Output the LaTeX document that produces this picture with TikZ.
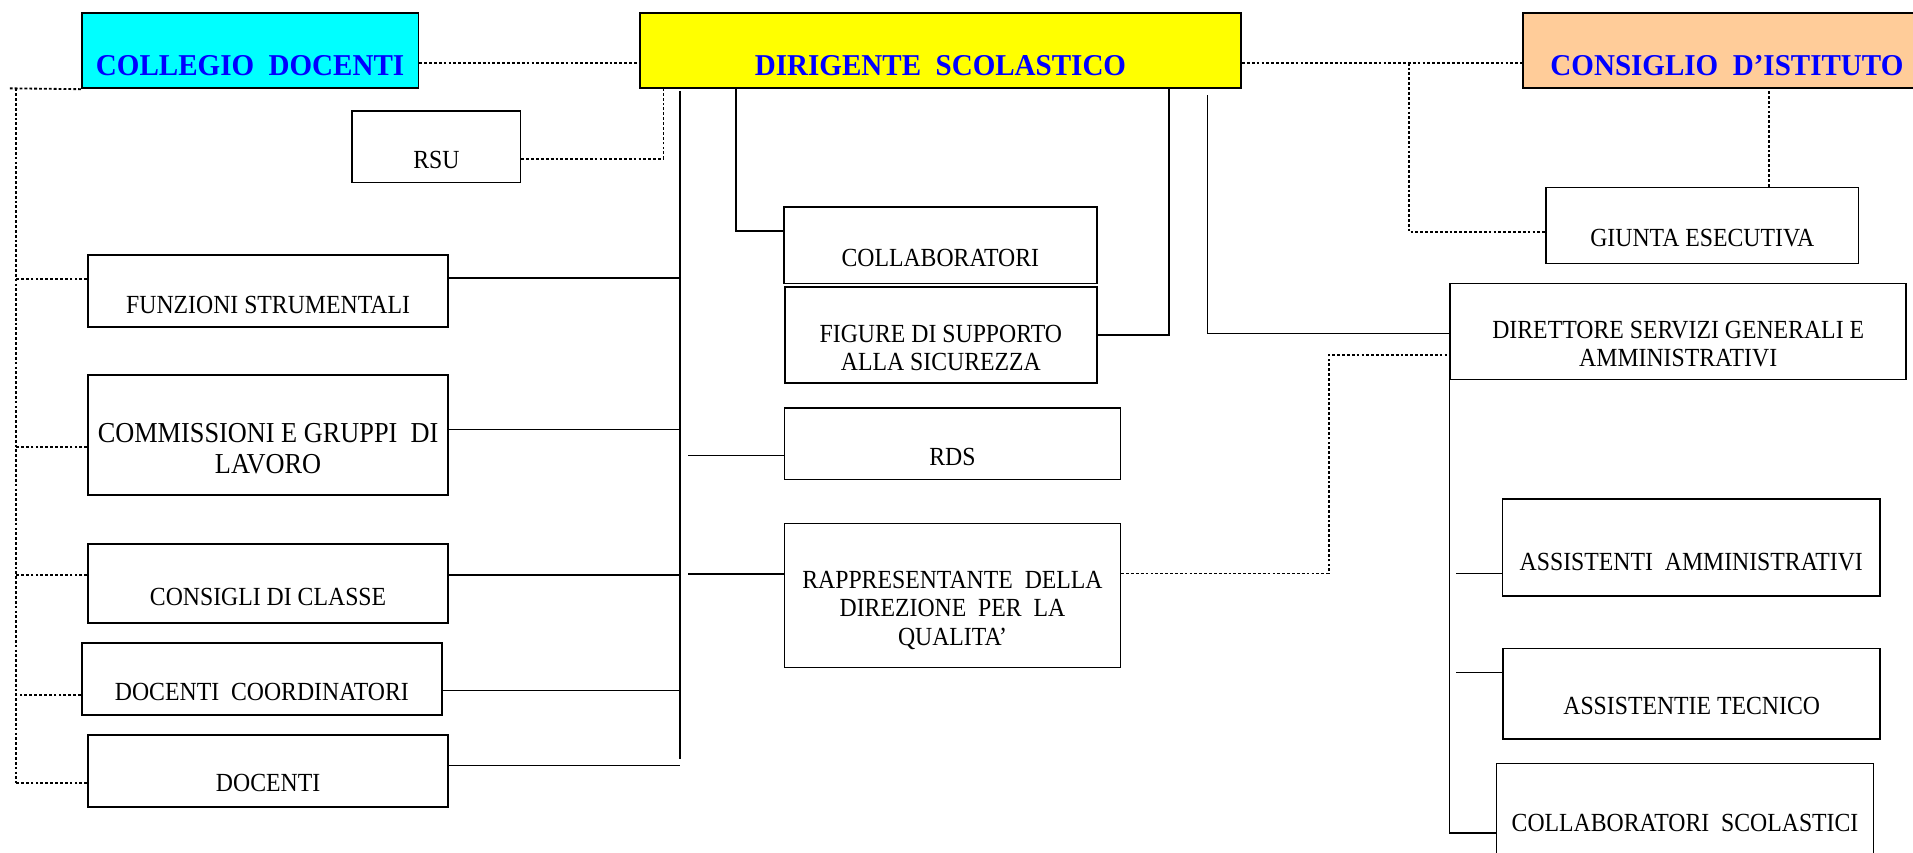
\documentclass[tikz,border=0pt]{standalone}
\usepackage{fontspec}
\setmainfont{Liberation Serif}[FakeStretch=0.91]
\newfontfamily\headfont{Liberation Serif}[FakeStretch=0.96]
\definecolor{cyanbox}{RGB}{0,255,255}
\definecolor{yellowbox}{RGB}{255,255,0}
\definecolor{peachbox}{RGB}{255,204,153}
\newcommand{\lowtext}[2]{\raisebox{-#1}[0pt][0pt]{\begin{tabular}[b]{@{}c@{}}#2\end{tabular}}}

\begin{document}
\begin{tikzpicture}[x=1pt, y=-1pt,
box/.style={draw, line width=1.4pt, inner sep=0pt, font=\fontsize{21.4pt}{23.3pt}\selectfont},
head/.style={box, font=\headfont\fontsize{24.8pt}{28pt}\selectfont\bfseries, text=blue},
link/.style={line width=1.3pt},
dotlink/.style={line width=1.5pt, dash pattern=on 2.3pt off 1.7pt}]
\useasboundingbox (0,0) rectangle (1568,699);

% top row
\node [head, fill=cyanbox, minimum width=275.9pt, minimum height=62pt] (collegio) at (205,41.4) {\lowtext{20.1pt}{COLLEGIO~~DOCENTI}};
\node [head, fill=yellowbox, minimum width=492.8pt, minimum height=62pt] (dirigente) at (770.9,41.4) {\lowtext{20.1pt}{DIRIGENTE~~SCOLASTICO}};
\node [head, fill=peachbox, minimum width=334.6pt, minimum height=62pt] (consiglio) at (1415.5,41.4) {\lowtext{20.1pt}{CONSIGLIO~~D’ISTITUTO}};

% left column
\node [box, minimum width=138pt, minimum height=59pt] (rsu) at (357.7,120.2) {\lowtext{17.8pt}{RSU}};
\node [box, minimum width=295.3pt, minimum height=58.8pt] (funzioni) at (219.75,238.4) {\lowtext{18.6pt}{FUNZIONI STRUMENTALI}};
\node [box, minimum width=295.3pt, minimum height=98.1pt, font=\fontsize{23.7pt}{25.1pt}\selectfont] (commissioni) at (219.75,356.45) {\lowtext{31.5pt}{COMMISSIONI E GRUPPI~~DI\\LAVORO}};
\node [box, minimum width=295.3pt, minimum height=64.5pt] (consigli) at (219.75,478.15) {\lowtext{17.85pt}{CONSIGLI DI CLASSE}};
\node [box, minimum width=295.3pt, minimum height=59.2pt] (coordinatori) at (214.65,556.4) {\lowtext{17.9pt}{DOCENTI~~COORDINATORI}};
\node [box, minimum width=295.3pt, minimum height=58.7pt] (docenti) at (219.75,631.85) {\lowtext{17.15pt}{DOCENTI}};

% middle column
\node [box, minimum width=256.6pt, minimum height=62.9pt] (collaboratori) at (770.7,200.85) {\lowtext{17.75pt}{COLLABORATORI}};
\node [box, minimum width=255.6pt, minimum height=78.7pt] (sicurezza) at (771.2,274.85) {\lowtext{29.05pt}{FIGURE DI SUPPORTO\\ALLA SICUREZZA}};
\node [box, minimum width=275.2pt, minimum height=58.7pt] (rds) at (780.7,363.55) {\lowtext{17.65pt}{RDS}};
\node [box, minimum width=275.2pt, minimum height=118pt] (rdq) at (780.7,488) {\lowtext{40.7pt}{RAPPRESENTANTE~~DELLA\\DIREZIONE~~PER~~LA\\QUALITA’}};

% right column
\node [box, minimum width=256pt, minimum height=62.3pt] (giunta) at (1395.3,184.75) {\lowtext{17.45pt}{GIUNTA ESECUTIVA}};
\node [box, minimum width=373.7pt, minimum height=78.7pt] (dsga) at (1375.55,271.65) {\lowtext{28.95pt}{DIRETTORE SERVIZI GENERALI E\\AMMINISTRATIVI}};
\node [box, minimum width=309.5pt, minimum height=79.3pt] (assamm) at (1386.25,448.65) {\lowtext{18.55pt}{ASSISTENTI~~AMMINISTRATIVI}};
\node [box, minimum width=309.2pt, minimum height=74.5pt] (asstec) at (1386.6,568.75) {\lowtext{17.25pt}{ASSISTENTIE TECNICO}};
\node [box, minimum width=308.9pt, minimum height=76.3pt] (collscol) at (1381.15,663.85) {\lowtext{17.85pt}{COLLABORATORI~~SCOLASTICI}};

% dotted links
\draw [dotlink] ([yshift=-10pt]collegio.east) -- ([yshift=-10pt]dirigente.west);
\draw [dotlink] ([yshift=-10pt]dirigente.east) -- ([yshift=-10pt]consiglio.west);
\coordinate (cj) at (1155,51.4);
\draw [dotlink] (cj) |- ([yshift=-5.5pt]giunta.west);
\draw [dotlink] ([xshift=54.7pt]giunta.north) -- ([xshift=54.7pt]giunta.north |- consiglio.south);
\draw [dotlink] ([yshift=-9.8pt]rsu.east) -| ([xshift=20pt]dirigente.south west);
\draw [dotlink] ([yshift=18pt]rdq.east) -- ++(170.2,0) |- ([yshift=-19.35pt]dsga.west);

\coordinate (lspine) at (13.2,72.4);
\draw [dotlink] (collegio.south west) -- (8,72.4);
\foreach \n/\dy in {funzioni/9.9pt, commissioni/-9.65pt, consigli/6.55pt, coordinatori/-13.3pt, docenti/-9.75pt}
  \draw [dotlink] ([yshift=\dy]\n.west) coordinate (d-\n) -- (d-\n -| lspine);
\draw [dotlink] (lspine) -- (lspine |- d-docenti);

% solid links
\coordinate (spinetop) at (557.5,74.5);
\coordinate (spinebot) at (557.5,622.4);
\draw [link] (spinetop) -- (spinebot);
\foreach \n/\dy in {funzioni/10.5pt, commissioni/4.45pt, consigli/6.85pt, coordinatori/-9.7pt, docenti/4.25pt}
  \draw [link] ([yshift=\dy]\n.east) coordinate (s-\n) -- (s-\n -| spinetop);
\draw [link] ([yshift=-9.65pt]rds.west) -- ++(-78.1,0);
\draw [link] ([yshift=17.5pt]rdq.west) -- ++(-78.1,0);
\draw [link] ([xshift=79.5pt]dirigente.south west) |- ([yshift=11.75pt]collaboratori.west);
\draw [link] ([yshift=0.25pt]sicurezza.east) -| ([xshift=-59.9pt]dirigente.south east);
\draw [link] ([xshift=-28.3pt,yshift=-5pt]dirigente.south east) |- ([yshift=-1.55pt]dsga.west);
\draw [link] (dsga.south west) |- ([yshift=-19.15pt]collscol.west);
\draw [link] ([yshift=-21.55pt]assamm.west) -- ++(-37.8,0);
\draw [link] ([yshift=17.65pt]asstec.west) -- ++(-38.3,0);

\end{tikzpicture}
\end{document}
